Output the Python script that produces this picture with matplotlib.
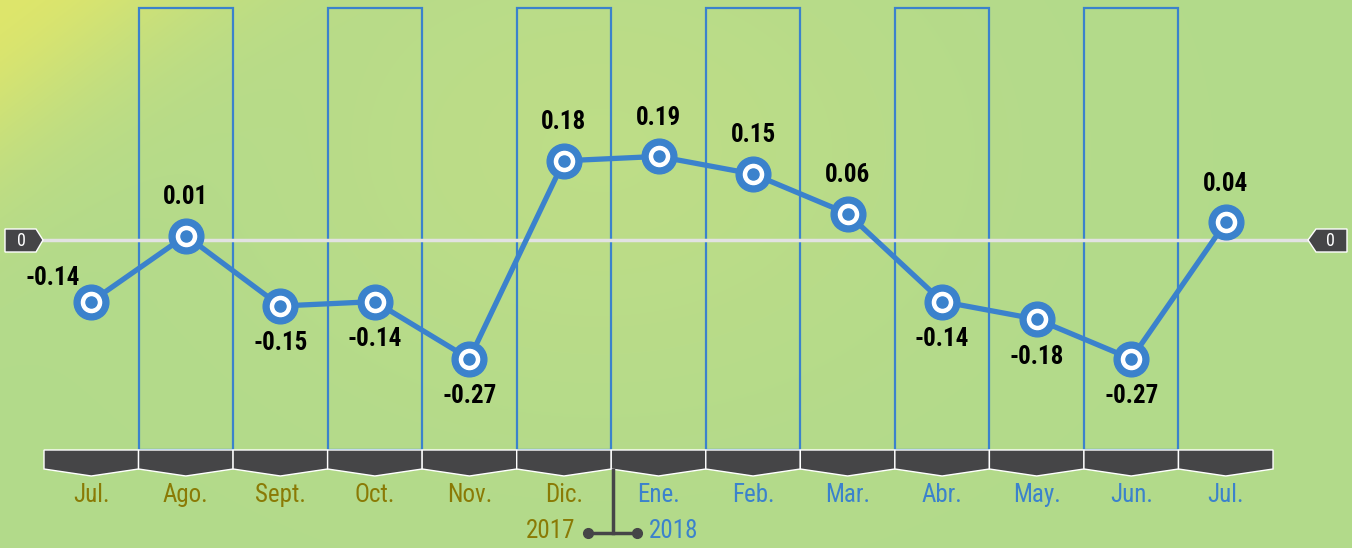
import numpy as np
import matplotlib.pyplot as plt
from matplotlib import transforms
from matplotlib.patches import Polygon, Rectangle

months = ["Jul.", "Ago.", "Sept.", "Oct.", "Nov.", "Dic.",
          "Ene.", "Feb.", "Mar.", "Abr.", "May.", "Jun.", "Jul."]
year_of_month = [2017] * 6 + [2018] * 7
values = [-0.14, 0.01, -0.15, -0.14, -0.27, 0.18,
          0.19, 0.15, 0.06, -0.14, -0.18, -0.27, 0.04]
label_side = ["l", "a", "b", "b", "b", "a", "a", "a", "a", "b", "b", "b", "a"]

W, H = 1352, 548
BLUE = "#3b82cc"
OLIVE = "#8a7a05"
DARK = "#454547"
FONT = ["Roboto Condensed", "DejaVu Sans"]

fig = plt.figure(figsize=(W / 100, H / 100), dpi=100)
ax = fig.add_axes([0, 0, 1, 1])
ax.set_axis_off()

# pixel layout of the original
left_px, col_px, zero_px, unit_px = 44, 94.54, 240, 440
ax.set_xlim(-0.5 - left_px / col_px, -0.5 + (W - left_px) / col_px)
ax.set_ylim(-(H - zero_px) / unit_px, zero_px / unit_px)

px = transforms.Affine2D().scale(1 / W, -1 / H).translate(0, 1) + fig.transFigure
x_data_y_px = transforms.blended_transform_factory(ax.transData, px)

# background gradient
yy, xx = np.mgrid[0:H, 0:W]
base = np.array([0.70, 0.855, 0.545])
yellow = np.array([0.87, 0.90, 0.42])
light = np.array([0.77, 0.875, 0.52])
w_y = np.exp(-((xx + 1.3 * yy) / 210.0) ** 2)
w_l = 0.6 * np.exp(-(((xx - 600) / 350.0) ** 2 + ((yy - 150) / 250.0) ** 2))
img = base * (1 - w_l[..., None]) + light * w_l[..., None]
img = img * (1 - w_y[..., None]) + yellow * w_y[..., None]
ax.imshow(img, extent=[0, 1, 0, 1], transform=ax.transAxes, aspect="auto", zorder=0)

# column frames on alternate months
for i in range(1, len(months), 2):
    ax.add_patch(Rectangle((i - 0.5, 8), 1, 442, transform=x_data_y_px,
                           fill=False, edgecolor=BLUE, lw=1.6, zorder=1))

# zero line and tabs
ax.plot([43, 1309], [240, 240], transform=px, color="#e2e2e2", lw=2.5, zorder=2)
for pts, tx in [([(5, 229), (36, 229), (43, 240), (36, 252), (5, 252)], 21),
                ([(1347, 229), (1316, 229), (1308, 240), (1316, 252), (1347, 252)], 1330)]:
    ax.add_patch(Polygon(pts, closed=True, transform=px, facecolor=DARK,
                         edgecolor="white", lw=1, zorder=3))
    ax.text(tx, 241, "0", transform=px, color="white", fontsize=13,
            ha="center", va="center", family=FONT, zorder=4)

# bottom chevron bar
for i in range(len(months)):
    pts = [(i - 0.5, 450), (i + 0.5, 450), (i + 0.5, 469), (i, 476), (i - 0.5, 469)]
    ax.add_patch(Polygon(pts, closed=True, transform=x_data_y_px, facecolor=DARK,
                         edgecolor="white", lw=1, zorder=3))

# month labels
for i, (m, yr) in enumerate(zip(months, year_of_month)):
    ax.text(i, 495, m, transform=x_data_y_px, ha="center", va="center",
            fontsize=18, color=OLIVE if yr == 2017 else BLUE, family=FONT)

# year legend
ax.plot([613, 613], [470, 533], transform=px, color=DARK, lw=2.5, zorder=3)
ax.plot([588, 637], [533, 533], transform=px, color=DARK, lw=2.5, zorder=3,
        marker="o", markersize=7)
ax.text(575, 531, "2017", transform=px, ha="right", va="center", fontsize=18,
        color=OLIVE, family=FONT)
ax.text(649, 531, "2018", transform=px, ha="left", va="center", fontsize=18,
        color=BLUE, family=FONT)

# series
x = np.arange(len(values))
ax.plot(x, values, color=BLUE, lw=3.8, zorder=5, solid_capstyle="round")
ax.plot(x, values, "o", ms=25, color=BLUE, zorder=6)
ax.plot(x, values, "o", ms=14.5, color="white", zorder=7)
ax.plot(x, values, "o", ms=8, color=BLUE, zorder=8)

offsets = {"a": (0, 28), "b": (0, -27), "l": (-28, 17)}
for xi, v, side in zip(x, values, label_side):
    ax.annotate(f"{v:.2f}", (xi, v), xytext=offsets[side], textcoords="offset points",
                ha="center", va="center", fontsize=18, fontweight="bold",
                color="black", family=FONT, zorder=9)

fig.savefig("out.png", dpi=100)
